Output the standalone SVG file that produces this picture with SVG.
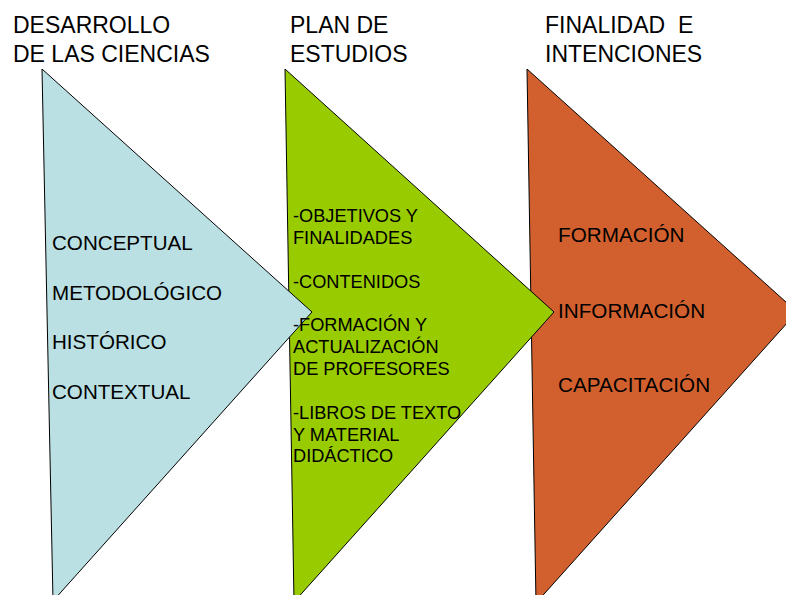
<svg xmlns="http://www.w3.org/2000/svg" width="786" height="595" viewBox="0 0 786 595">
<style>
.tri{stroke:#000;stroke-width:1;stroke-linejoin:miter}
text{font-family:"Liberation Sans",Arial,sans-serif;fill:#000}
.h{font-size:23px}
.b{font-size:20.6px}
.g{font-size:18.2px}
.o{font-size:20.7px}
</style>
<rect width="786" height="595" fill="#fff"/>
<g id="headers">
<text class="h" x="13" y="33">DESARROLLO</text>
<text class="h" x="13" y="62">DE LAS CIENCIAS</text>
<text class="h" x="290" y="33">PLAN DE</text>
<text class="h" x="290" y="62">ESTUDIOS</text>
<text class="h" x="545" y="33" xml:space="preserve">FINALIDAD  E</text>
<text class="h" x="545" y="62">INTENCIONES</text>
</g>
<g id="finalidad">
<polygon class="tri" points="527,69 797,312 536,603" fill="#D2602E"/>
</g>
<g id="plan">
<polygon class="tri" points="285,69 554,312 294,602" fill="#99CC00"/>
</g>
<g id="desarrollo">
<polygon class="tri" points="42,69 312,312 53,601" fill="#BBE0E3"/>
</g>
<g id="desarrollo-text">
<text class="b" x="52" y="250">CONCEPTUAL</text>
<text class="b" x="52" y="300">METODOLÓGICO</text>
<text class="b" x="52" y="349">HISTÓRICO</text>
<text class="b" x="52" y="399">CONTEXTUAL</text>
</g>
<g id="plan-text">
<text class="g" x="293" y="222">-OBJETIVOS Y</text>
<text class="g" x="293" y="244">FINALIDADES</text>
<text class="g" x="293" y="287.5">-CONTENIDOS</text>
<text class="g" x="293" y="331">-FORMACIÓN Y</text>
<text class="g" x="293" y="353">ACTUALIZACIÓN</text>
<text class="g" x="293" y="375">DE PROFESORES</text>
<text class="g" x="293" y="418.5">-LIBROS DE TEXTO</text>
<text class="g" x="293" y="440.5">Y MATERIAL</text>
<text class="g" x="293" y="461.5">DIDÁCTICO</text>
</g>
<g id="finalidad-text">
<text class="o" x="558" y="241.5">FORMACIÓN</text>
<text class="o" x="558" y="317.5">INFORMACIÓN</text>
<text class="o" x="558" y="392">CAPACITACIÓN</text>
</g>
<g id="connectors"/>
</svg>
